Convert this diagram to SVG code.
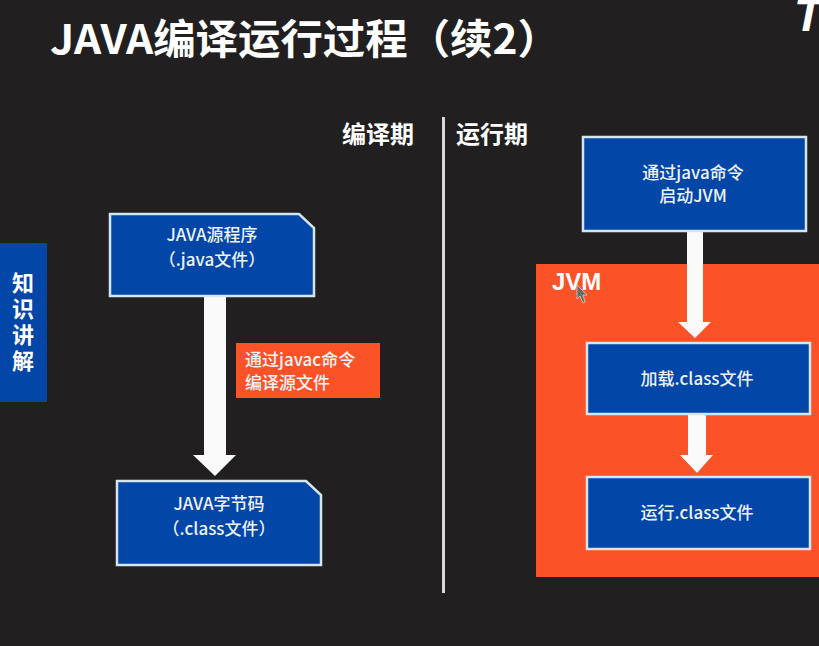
<svg xmlns="http://www.w3.org/2000/svg" width="819" height="646" viewBox="0 0 819 646">
<style>
text{font-family:"Noto Sans CJK SC","Noto Sans","Liberation Sans",sans-serif;fill:#fff;font-weight:700}
.box{fill:#0246a8;stroke:#d5e6f2;stroke-width:2.5}
.lbl{font-size:17px;text-anchor:middle;fill:#eef3fa;font-weight:500}
.arrow{fill:#fafafa}
</style>
<rect width="819" height="646" fill="#211f20"/>
<text id="title" x="50" y="54" font-size="41" textLength="510" lengthAdjust="spacingAndGlyphs">JAVA编译运行过程（续2）</text>
<text x="794" y="31" font-size="46" font-style="italic" style="font-family:'Liberation Sans',sans-serif;font-weight:700">T</text>
<text x="342" y="143" font-size="24" font-weight="500">编译期</text>
<text x="456" y="143" font-size="24" font-weight="500">运行期</text>
<rect x="442" y="117" width="3" height="476" fill="#d8d8d8"/>
<g id="tab">
<rect x="0" y="243" width="47" height="159" fill="#0246a8"/>
<text x="23" y="291" font-size="22" text-anchor="middle">知</text>
<text x="23" y="317" font-size="22" text-anchor="middle">识</text>
<text x="23" y="343" font-size="22" text-anchor="middle">讲</text>
<text x="23" y="369" font-size="22" text-anchor="middle">解</text>
</g>
<g id="jvm-container">
<rect x="536" y="264" width="283" height="313" fill="#fb5227"/>
<text x="552" y="290" font-size="24" font-weight="500" style="font-family:'Liberation Sans',sans-serif">JVM</text>
</g>
<g id="connectors">
<polygon class="arrow" points="204,297 226,297 226,455 236,455 215,476 193,455 204,455"/>
<polygon class="arrow" points="687,231 703,231 703,322 711,322 695,338 678,322 687,322"/>
<polygon class="arrow" points="688,414 706,414 706,455 713,455 697,473 680,455 688,455"/>
</g>
<g id="source">
<polygon class="box" points="110,214 299,214 314,228 314,296 110,296"/>
<text class="lbl" x="212" y="241">JAVA源程序</text>
<text class="lbl" x="212" y="266">（.java文件）</text>
</g>
<g id="bytecode">
<polygon class="box" points="117,481 306,481 321,495 321,565 117,565"/>
<text class="lbl" x="219" y="510">JAVA字节码</text>
<text class="lbl" x="219" y="535">（.class文件）</text>
</g>
<g id="compile-label">
<rect x="236" y="343" width="144" height="55" fill="#fb5227"/>
<text class="lbl" x="245" y="366" style="text-anchor:start">通过javac命令</text>
<text class="lbl" x="245" y="389" style="text-anchor:start">编译源文件</text>
</g>
<g id="start-jvm">
<rect class="box" x="583" y="137" width="223" height="94"/>
<text class="lbl" x="693" y="179">通过java命令</text>
<text class="lbl" x="693" y="202">启动JVM</text>
</g>
<g id="load">
<rect class="box" x="587" y="343" width="223" height="71"/>
<text class="lbl" x="697" y="385">加载.class文件</text>
</g>
<g id="run">
<rect class="box" x="587" y="477" width="223" height="72"/>
<text class="lbl" x="697" y="519">运行.class文件</text>
</g>
<polygon points="577,285 577,299 580,296 583,303 585,302 583,295 587,295" fill="#6b6b6b" stroke="#eee" stroke-width="0.6"/>
</svg>
